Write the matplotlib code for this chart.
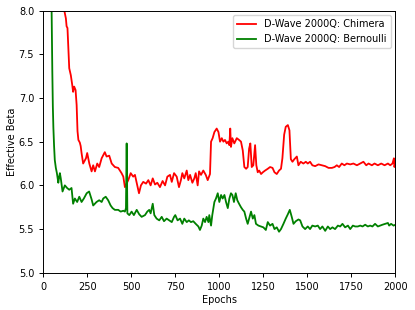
import matplotlib
matplotlib.use("Agg")
import matplotlib.pyplot as plt

red_epochs = [100, 120, 129, 133, 138, 142, 148, 157, 165, 170, 176, 184, 190, 195, 200, 208, 213, 218, 227, 235,
              243, 250, 262, 275, 284, 294, 307, 318, 332, 350, 360, 375, 389, 407, 426, 445, 455, 464, 483, 497,
              511, 521, 534, 544, 555, 568, 584, 597, 610, 622, 635, 648, 663, 678, 692, 705, 720, 730, 743, 758,
              771, 782, 790, 801, 815, 824, 834, 847, 858, 866, 877, 885, 896, 909, 923, 934, 947, 953, 962, 972,
              985, 995, 1004, 1014, 1023, 1032, 1042, 1051, 1057, 1062, 1066, 1074, 1085, 1099, 1112, 1123, 1133,
              1142, 1152, 1161, 1169, 1176, 1184, 1193, 1203, 1210, 1218, 1226, 1237, 1247, 1260, 1275, 1288, 1302,
              1313, 1326, 1339, 1350, 1358, 1368, 1377, 1389, 1398, 1406, 1415, 1426, 1440, 1449, 1462, 1477, 1491,
              1502, 1515, 1528, 1544, 1563, 1582, 1601, 1620, 1639, 1654, 1667, 1680, 1695, 1710, 1724, 1743, 1761,
              1781, 1800, 1818, 1834, 1847, 1866, 1881, 1900, 1919, 1938, 1957, 1970, 1983, 1991, 1994, 2000]
red_values = [8.4, 8.0, 7.91, 7.82, 7.80, 7.61, 7.34, 7.26, 7.15, 7.07, 7.13, 7.09, 6.92, 6.62, 6.52, 6.49, 6.45, 6.37,
              6.25, 6.28, 6.31, 6.37, 6.25, 6.16, 6.23, 6.16, 6.25, 6.21, 6.31, 6.38, 6.33, 6.34, 6.25, 6.21, 6.20,
              6.14, 6.10, 5.98, 6.06, 6.14, 6.10, 6.12, 6.00, 5.91, 6.00, 6.04, 6.02, 6.06, 6.00, 6.08, 6.01, 6.03,
              5.98, 6.05, 6.00, 6.10, 6.12, 6.04, 6.14, 6.10, 5.98, 6.06, 6.14, 6.08, 6.17, 6.06, 6.12, 6.03, 6.08,
              6.14, 6.00, 6.16, 6.12, 6.17, 6.12, 6.06, 6.13, 6.50, 6.54, 6.61, 6.65, 6.61, 6.50, 6.54, 6.50, 6.52,
              6.48, 6.50, 6.46, 6.65, 6.44, 6.54, 6.48, 6.54, 6.52, 6.50, 6.40, 6.21, 6.19, 6.21, 6.42, 6.48, 6.21,
              6.23, 6.46, 6.23, 6.15, 6.17, 6.13, 6.15, 6.17, 6.19, 6.21, 6.20, 6.15, 6.13, 6.17, 6.19, 6.31, 6.58,
              6.67, 6.69, 6.63, 6.30, 6.27, 6.30, 6.33, 6.23, 6.27, 6.25, 6.27, 6.25, 6.27, 6.23, 6.22, 6.24, 6.23,
              6.22, 6.20, 6.20, 6.21, 6.23, 6.21, 6.25, 6.23, 6.25, 6.24, 6.25, 6.23, 6.25, 6.27, 6.23, 6.25, 6.23,
              6.25, 6.23, 6.25, 6.23, 6.25, 6.23, 6.25, 6.31, 6.21, 6.27]

green_epochs = [40, 48, 52, 55, 58, 62, 66, 72, 78, 86, 91, 95, 100, 110, 123, 136, 148, 161, 170, 180, 193, 205, 218,
                231, 247, 261, 275, 284, 303, 318, 332, 341, 355, 369, 383, 394, 407, 426, 440, 455, 464, 470, 474,
                478, 489, 502, 515, 531, 545, 559, 578, 591, 602, 610, 622, 631, 644, 659, 673, 686, 701, 716, 730,
                743, 750, 763, 777, 790, 801, 815, 827, 839, 852, 866, 881, 890, 900, 909, 919, 928, 938, 943, 953,
                960, 972, 981, 991, 1000, 1010, 1019, 1029, 1038, 1048, 1057, 1066, 1074, 1083, 1093, 1102, 1112,
                1123, 1133, 1142, 1152, 1161, 1169, 1180, 1190, 1199, 1208, 1222, 1237, 1250, 1264, 1275, 1288, 1302,
                1313, 1326, 1339, 1350, 1364, 1377, 1389, 1400, 1411, 1421, 1434, 1449, 1459, 1472, 1487, 1502, 1515,
                1528, 1544, 1559, 1572, 1585, 1601, 1616, 1629, 1642, 1657, 1673, 1686, 1699, 1714, 1730, 1743, 1758,
                1771, 1786, 1800, 1813, 1828, 1843, 1856, 1869, 1884, 1900, 1913, 1926, 1941, 1957, 1964, 1975, 1989,
                2000]
green_values = [9.0, 8.0, 7.3, 6.9, 6.66, 6.45, 6.29, 6.20, 6.14, 6.03, 6.10, 6.14, 6.08, 5.93, 6.00, 5.97, 5.95, 5.97,
                5.79, 5.85, 5.81, 5.87, 5.81, 5.85, 5.91, 5.93, 5.84, 5.77, 5.81, 5.83, 5.81, 5.85, 5.87, 5.83, 5.77,
                5.74, 5.72, 5.72, 5.70, 5.71, 5.70, 5.74, 6.48, 5.68, 5.66, 5.70, 5.66, 5.72, 5.67, 5.64, 5.66, 5.70,
                5.72, 5.68, 5.79, 5.66, 5.62, 5.60, 5.64, 5.59, 5.62, 5.60, 5.58, 5.64, 5.66, 5.60, 5.62, 5.56, 5.62,
                5.58, 5.60, 5.58, 5.59, 5.56, 5.53, 5.49, 5.54, 5.62, 5.58, 5.64, 5.58, 5.66, 5.54, 5.66, 5.81, 5.85,
                5.91, 5.81, 5.89, 5.85, 5.89, 5.81, 5.74, 5.85, 5.91, 5.89, 5.81, 5.91, 5.83, 5.79, 5.75, 5.72, 5.70,
                5.62, 5.56, 5.62, 5.70, 5.62, 5.66, 5.56, 5.54, 5.53, 5.52, 5.49, 5.58, 5.54, 5.56, 5.50, 5.52, 5.47,
                5.50, 5.56, 5.62, 5.67, 5.72, 5.64, 5.56, 5.59, 5.61, 5.60, 5.53, 5.50, 5.53, 5.50, 5.54, 5.53, 5.54,
                5.50, 5.53, 5.48, 5.53, 5.50, 5.52, 5.50, 5.54, 5.53, 5.56, 5.52, 5.54, 5.50, 5.54, 5.53, 5.53, 5.54,
                5.53, 5.55, 5.53, 5.54, 5.53, 5.56, 5.53, 5.54, 5.55, 5.56, 5.57, 5.54, 5.56, 5.54, 5.55]

labels = ["D-Wave 2000Q: Chimera", "D-Wave 2000Q: Bernoulli"]
x_ticks = [0, 250, 500, 750, 1000, 1250, 1500, 1750, 2000]
y_ticks = [5.0, 5.5, 6.0, 6.5, 7.0, 7.5, 8.0]

fig = plt.figure(figsize=(4.15, 3.10), dpi=100)
ax = fig.add_axes([0.104, 0.120, 0.849, 0.846])
ax.plot(red_epochs, red_values, color="red", lw=1.3, label=labels[0])
ax.plot(green_epochs, green_values, color="green", lw=1.3, label=labels[1])
ax.set_xlim(0, 2000)
ax.set_ylim(5.0, 8.0)
ax.set_xticks(x_ticks)
ax.set_yticks(y_ticks)
ax.set_yticklabels([f"{v:.1f}" for v in y_ticks])
ax.tick_params(labelsize=7, length=3, width=0.7)
for s in ax.spines.values():
    s.set_linewidth(0.7)
ax.set_xlabel("Epochs", fontsize=7, labelpad=2)
ax.set_ylabel("Effective Beta", fontsize=7, labelpad=1.5)
ax.legend(loc="upper right", fontsize=7, framealpha=0.8, handlelength=2.0)
fig.savefig("out.png", dpi=100)
